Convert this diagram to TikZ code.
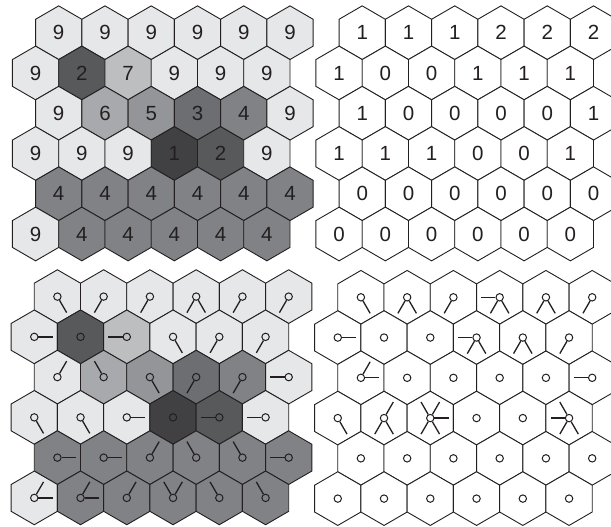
\documentclass[tikz,border=0pt]{standalone}
\usepackage{fontspec}
\setmainfont{Liberation Sans}
\definecolor{c9}{HTML}{E6E7E8}
\definecolor{c7}{HTML}{BCBEC0}
\definecolor{c6}{HTML}{A7A9AC}
\definecolor{c5}{HTML}{939598}
\definecolor{c4}{HTML}{808285}
\definecolor{c3}{HTML}{6D6E71}
\definecolor{c2}{HTML}{58595B}
\definecolor{c1}{HTML}{414042}
\definecolor{ink}{HTML}{231F20}
\newcommand\hexcell[3]{%
  \draw[hexline,fill=#3] (#1,#2) ++(0,-26.84) -- ++(23.13,13.42) -- ++(0,26.84)
    -- ++(-23.13,13.42) -- ++(-23.13,-13.42) -- ++(0,-26.84) -- cycle;}
\tikzset{
  hexline/.style={draw=ink,line width=0.9pt,line join=miter},
  digit/.style={text=ink,font=\fontsize{20.5}{21}\selectfont,inner sep=0pt},
  dot/.style={circle,draw=ink,line width=1pt,minimum size=7.4pt,inner sep=0pt},
  flowline/.style={draw=ink,line width=1.3pt}
}
\begin{document}
\begin{tikzpicture}[x=1pt,y=-1pt]
\useasboundingbox (0,0) rectangle (611,527);
% ---------- top-left: elevation values ----------
\foreach \row [count=\r from 0] in {{9,9,9,9,9,9},{9,2,7,9,9,9},{9,6,5,3,4,9},{9,9,9,1,2,9},{4,4,4,4,4,4},{9,4,4,4,4,4}}{
  \foreach \v [count=\c from 0] in \row {
    \pgfmathsetmacro\px{58.7+46.26*\c-23.13*mod(\r,2)}
    \pgfmathsetmacro\py{32.7+40.26*\r}
    \hexcell{\px}{\py}{c\v}
    \node[digit] (A-\r-\c) at (\px,\py) {\v};
  }
}
% ---------- top-right: counts ----------
\foreach \row [count=\r from 0] in {{1,1,1,2,2,2},{1,0,0,1,1,1},{1,0,0,0,0,1},{1,1,1,0,0,1},{0,0,0,0,0,0},{0,0,0,0,0,0}}{
  \foreach \v [count=\c from 0] in \row {
    \pgfmathsetmacro\px{362.2+46.26*\c-23.13*mod(\r,2)}
    \pgfmathsetmacro\py{32.7+40.26*\r}
    \hexcell{\px}{\py}{white}
    \node[digit] (B-\r-\c) at (\px,\py) {\v};
  }
}
% ---------- bottom-left: flow directions ----------
\foreach \row [count=\r from 0] in {{9,9,9,9,9,9},{9,2,7,9,9,9},{9,6,5,3,4,9},{9,9,9,1,2,9},{4,4,4,4,4,4},{9,4,4,4,4,4}}{
  \foreach \v [count=\c from 0] in \row {
    \pgfmathsetmacro\px{57.4+46.26*\c-23.13*mod(\r,2)}
    \pgfmathsetmacro\py{296.6+40.26*\r}
    \hexcell{\px}{\py}{c\v}
    \node[dot] (C-\r-\c) at (\px,\py) {};
  }
}
\foreach \r/\c/\a in {0/0/300,0/1/240,0/2/240,0/3/240,0/3/300,0/4/240,0/5/240,
  1/0/0,1/2/180,1/3/300,1/4/240,1/5/240,
  2/0/60,2/1/120,2/2/300,2/3/240,2/4/240,2/5/180,
  3/0/300,3/1/300,3/2/0,3/4/180,3/5/180,
  4/0/0,4/1/0,4/2/60,4/3/120,4/4/120,4/5/180,
  5/0/0,5/0/60,5/1/0,5/1/60,5/2/60,5/3/120,5/3/60,5/4/120,5/5/120}{
  \draw[flowline] (C-\r-\c) -- ++({18.5*cos(\a)},{-18.5*sin(\a)});
}
% ---------- bottom-right: contributing directions ----------
\foreach \r in {0,...,5}{
  \foreach \c in {0,...,5}{
    \pgfmathsetmacro\px{360.9+46.26*\c-23.13*mod(\r,2)}
    \pgfmathsetmacro\py{297.3+40.26*\r}
    \hexcell{\px}{\py}{white}
    \node[dot] (D-\r-\c) at (\px,\py) {};
  }
}
\foreach \r/\c/\a in {0/0/300,0/1/240,0/1/300,0/2/240,0/3/180,0/3/240,0/3/300,0/4/240,0/4/300,0/5/240,
  1/0/0,1/3/180,1/3/240,1/3/300,1/4/240,1/4/300,1/5/240,
  2/0/0,2/0/60,2/5/180,
  3/0/300,3/1/60,3/1/240,3/1/300,3/2/120,3/2/60,3/2/0,3/2/240,3/2/300,3/5/180,3/5/120,3/5/240,3/5/300}{
  \draw[flowline] (D-\r-\c) -- ++({18.5*cos(\a)},{-18.5*sin(\a)});
}
\end{tikzpicture}
\end{document}
